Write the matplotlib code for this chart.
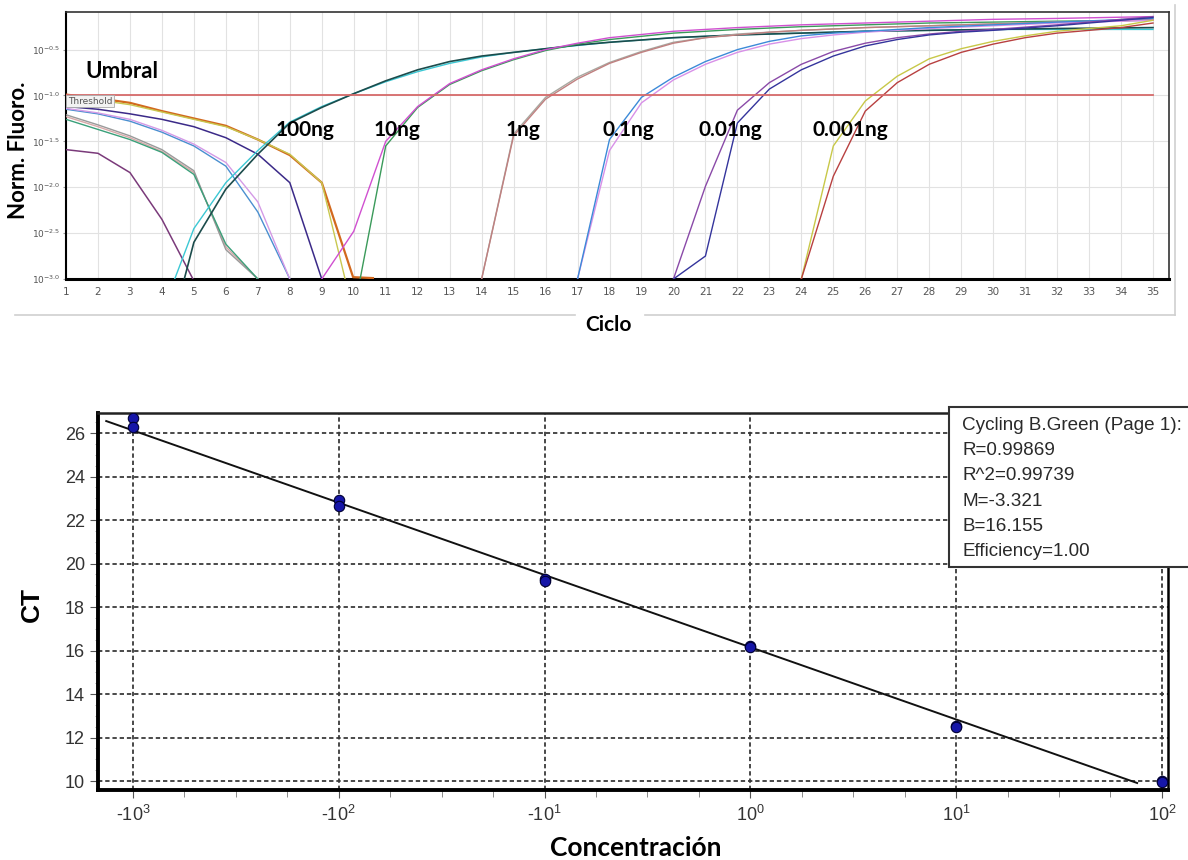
import numpy as np
import matplotlib.pyplot as plt
from matplotlib.patches import Rectangle
from matplotlib.lines import Line2D
from matplotlib.ticker import MultipleLocator

# ---- top chart: amplification curves (values are log10 of Norm. Fluoro.) ----
threshold_log = -0.99

# early-cycle baselines dropping off the bottom
base_orange_x = [1, 2, 3, 4, 5, 6, 7, 8, 9, 9.98, 10.6]
base_orange_y = [-0.99, -1.03, -1.08, -1.17, -1.25, -1.33, -1.48, -1.65, -1.95, -2.98, -2.99]
base_yellow_x = [1, 2, 3, 4, 5, 6, 7, 8, 9, 9.73]
base_yellow_y = [-1.01, -1.05, -1.1, -1.18, -1.26, -1.34, -1.48, -1.64, -1.95, -3.0]
base_indigo_x = [1, 2, 3, 4, 5, 6, 7, 8, 9]
base_indigo_y = [-1.12, -1.15, -1.2, -1.26, -1.34, -1.46, -1.64, -1.95, -3.0]
base_blue_x = [1, 2, 3, 4, 5, 6, 7, 8]
base_blue_y = [-1.15, -1.2, -1.28, -1.4, -1.55, -1.77, -2.27, -3.0]
base_lav_x = [1, 2, 3, 4, 5, 6, 7, 8]
base_lav_y = [-1.14, -1.19, -1.26, -1.38, -1.53, -1.73, -2.16, -3.0]
base_pink_x = [1, 2, 3, 4, 5, 6, 7]
base_pink_y = [-1.23, -1.34, -1.46, -1.61, -1.84, -2.65, -3.0]
base_gray_x = [1, 2, 3, 4, 5, 6, 7]
base_gray_y = [-1.21, -1.32, -1.44, -1.59, -1.82, -2.68, -3.0]
base_green_x = [1, 2, 3, 4, 5, 6, 7]
base_green_y = [-1.26, -1.37, -1.48, -1.62, -1.86, -2.62, -3.0]
base_plum_x = [1, 2, 3, 4, 4.97]
base_plum_y = [-1.59, -1.63, -1.84, -2.35, -3.0]

# amplification curves, two replicates per dilution
ng100_a_x = [4.7, 5, 6, 7, 8, 9, 10, 11, 12, 13, 14, 15, 16, 17, 18, 20, 22, 24, 26, 28, 30, 32, 35]
ng100_a_y = [-3.0, -2.6, -2.02, -1.64, -1.3, -1.13, -0.98, -0.84, -0.72, -0.63, -0.57, -0.53,
             -0.49, -0.45, -0.42, -0.37, -0.34, -0.32, -0.3, -0.29, -0.28, -0.27, -0.26]
ng100_b_x = [4.4, 5, 6, 7, 8, 9, 10, 11, 12, 13, 14, 15, 16, 18, 20, 22, 24, 26, 28, 30, 35]
ng100_b_y = [-3.0, -2.45, -1.95, -1.6, -1.29, -1.12, -0.98, -0.85, -0.74, -0.65, -0.58, -0.53,
             -0.49, -0.42, -0.37, -0.34, -0.32, -0.3, -0.29, -0.28, -0.28]
ng10_a_x = [9, 10, 11, 12, 13, 14, 15, 16, 17, 18, 20, 22, 24, 26, 28, 30, 32, 35]
ng10_a_y = [-3.0, -2.48, -1.5, -1.12, -0.87, -0.72, -0.6, -0.5, -0.43, -0.37, -0.3, -0.26,
            -0.23, -0.21, -0.19, -0.17, -0.16, -0.14]
ng10_b_x = [10.2, 11, 12, 13, 14, 15, 16, 17, 18, 20, 22, 24, 26, 28, 30, 32, 35]
ng10_b_y = [-3.0, -1.55, -1.13, -0.88, -0.73, -0.61, -0.51, -0.44, -0.39, -0.32, -0.28, -0.25,
            -0.23, -0.21, -0.2, -0.19, -0.18]
ng1_a_x = [14, 15, 16, 17, 18, 19, 20, 21, 22, 23, 24, 26, 28, 30, 32, 35]
ng1_a_y = [-3.0, -1.44, -1.04, -0.82, -0.65, -0.53, -0.43, -0.37, -0.34, -0.31, -0.29, -0.26,
           -0.24, -0.22, -0.2, -0.17]
ng1_b_x = [14, 15, 16, 17, 18, 19, 20, 21, 22, 23, 24, 26, 28, 30, 32, 35]
ng1_b_y = [-3.0, -1.42, -1.02, -0.8, -0.64, -0.52, -0.42, -0.37, -0.33, -0.31, -0.29, -0.26,
           -0.24, -0.22, -0.2, -0.18]
ng01_a_x = [17, 18, 19, 20, 21, 22, 23, 24, 25, 26, 28, 30, 32, 35]
ng01_a_y = [-3.0, -1.48, -1.02, -0.8, -0.63, -0.5, -0.41, -0.35, -0.32, -0.3, -0.26, -0.23, -0.2, -0.16]
ng01_b_x = [17, 18, 19, 20, 21, 22, 23, 24, 25, 26, 28, 30, 32, 35]
ng01_b_y = [-3.0, -1.6, -1.08, -0.83, -0.66, -0.53, -0.44, -0.38, -0.34, -0.31, -0.27, -0.24, -0.21, -0.18]
ng001_a_x = [20, 21, 22, 23, 24, 25, 26, 27, 28, 29, 30, 32, 35]
ng001_a_y = [-3.0, -1.99, -1.16, -0.86, -0.66, -0.52, -0.43, -0.37, -0.33, -0.3, -0.28, -0.23, -0.14]
ng001_b_x = [20, 21, 22, 23, 24, 25, 26, 27, 28, 29, 30, 32, 35]
ng001_b_y = [-3.0, -2.75, -1.3, -0.93, -0.72, -0.57, -0.46, -0.39, -0.34, -0.31, -0.29, -0.24, -0.15]
ng0001_a_x = [24, 25, 26, 27, 28, 29, 30, 31, 32, 33, 34, 35]
ng0001_a_y = [-3.0, -1.55, -1.06, -0.79, -0.6, -0.49, -0.41, -0.35, -0.3, -0.27, -0.24, -0.18]
ng0001_b_x = [24, 25, 26, 27, 28, 29, 30, 31, 32, 33, 34, 35]
ng0001_b_y = [-3.0, -1.88, -1.17, -0.86, -0.66, -0.53, -0.44, -0.37, -0.32, -0.29, -0.26, -0.21]

dilution_labels = ['100ng', '10ng', '1ng', '0.1ng', '0.01ng', '0.001ng']
dilution_label_x = [7.55, 10.62, 14.74, 17.78, 20.78, 24.35]

# ---- bottom chart: standard curve ----
conc_log = [-3, -3, -2, -2, -1, -1, 0, 0, 1, 1, 2, 2]
ct_values = [26.68, 26.29, 22.92, 22.64, 19.29, 19.22, 16.22, 16.16, 12.53, 12.49, 10.02, 9.98]
slope_m = -3.321
intercept_b = 16.155
fit_range = [-3.13, 1.88]
conc_tick_exp = [3, 2, 1, 0, 1, 2]
conc_tick_sign = ['-', '-', '-', '', '', '']
stats_lines = ['Cycling B.Green (Page 1):', 'R=0.99869', 'R^2=0.99739',
               'M=-3.321', 'B=16.155', 'Efficiency=1.00']

W, H = 1188, 860
fig = plt.figure(figsize=(W / 100, H / 100), dpi=100)
fig.patch.set_facecolor('white')

# ================= top chart =================
ax1 = fig.add_axes([66 / W, 1 - 279 / H, (1169 - 66) / W, 267 / H])
ax1.set_yscale('log')

curves = [
    (base_orange_x, base_orange_y, '#d2691e', 1.6),
    (base_yellow_x, base_yellow_y, '#c8c850', 1.0),
    (base_indigo_x, base_indigo_y, '#3b2a88', 1.1),
    (base_blue_x, base_blue_y, '#4a8fd0', 1.0),
    (base_lav_x, base_lav_y, '#d49ae6', 1.0),
    (base_pink_x, base_pink_y, '#d8a8a8', 1.0),
    (base_gray_x, base_gray_y, '#9a9a9a', 1.0),
    (base_green_x, base_green_y, '#3aa07a', 1.0),
    (base_plum_x, base_plum_y, '#7a3a7a', 1.1),
    (ng100_b_x, ng100_b_y, '#3cc8d4', 1.0),
    (ng100_a_x, ng100_a_y, '#1c4c4c', 1.2),
    (ng10_b_x, ng10_b_y, '#3a9a5a', 1.0),
    (ng10_a_x, ng10_a_y, '#d050d0', 1.0),
    (ng1_b_x, ng1_b_y, '#a8a8a0', 1.0),
    (ng1_a_x, ng1_a_y, '#c08080', 1.0),
    (ng01_b_x, ng01_b_y, '#d890e8', 1.0),
    (ng01_a_x, ng01_a_y, '#3c8ad8', 1.0),
    (ng001_a_x, ng001_a_y, '#8a4aa8', 1.0),
    (ng001_b_x, ng001_b_y, '#34349c', 1.0),
    (ng0001_a_x, ng0001_a_y, '#c8c848', 1.0),
    (ng0001_b_x, ng0001_b_y, '#b84040', 1.0),
]
for xs, ys, col, lw in curves:
    ax1.plot(xs, 10 ** np.array(ys), color=col, lw=lw, zorder=3)

ax1.plot([1, 35], [10 ** threshold_log] * 2, color='#d66a6a', lw=1.3, zorder=4)

ax1.set_xlim(1, 35.5)
ax1.set_ylim(10 ** -3.0, 10 ** -0.09)
ax1.set_xticks(range(1, 36))
ax1.tick_params(axis='x', labelsize=7.5, labelcolor='#555', length=0, pad=6)
ytick_exp = [-3.0, -2.5, -2.0, -1.5, -1.0, -0.5]
ax1.set_yticks([10 ** e for e in ytick_exp])
ax1.set_yticklabels([r'$\mathregular{10^{%.1f}}$' % e for e in ytick_exp])
ax1.minorticks_off()
ax1.tick_params(axis='y', labelsize=6.5, labelcolor='#555', length=2, color='#999', pad=2)
ax1.grid(True, color='#e2e2e2', lw=0.8, zorder=0)
ax1.set_axisbelow(True)
for side in ['top', 'right']:
    ax1.spines[side].set_linewidth(1.2)
    ax1.spines[side].set_color('#333')
ax1.spines['left'].set_linewidth(1.5)
ax1.spines['bottom'].set_linewidth(2.2)

ax1.text(1.06, 10 ** -1.06, 'Threshold', fontsize=6.5, color='#555', va='center',
         bbox=dict(facecolor='#f2f2f2', edgecolor='#aaa', lw=0.6, pad=1.2), zorder=6)
ax1.text(1.6, 10 ** -0.81, 'Umbral', fontsize=16, fontweight='bold', family='Lato',
         va='baseline', zorder=7)
for lab, lx in zip(dilution_labels, dilution_label_x):
    ax1.text(lx, 10 ** -1.445, lab, fontsize=15, fontweight='bold', family='Lato',
             va='baseline', zorder=7)

fig.text(19 / W, 1 - 150 / H, 'Norm. Fluoro.', rotation=90, fontsize=16, fontweight='bold',
         family='Lato', ha='center', va='center')
fig.text(608 / W, 1 - 325 / H, 'Ciclo', fontsize=15, fontweight='bold', family='Lato',
         ha='center', va='center')

# faint frame of the screenshot around the top chart
fig.add_artist(Line2D([15 / W, 575 / W], [1 - 315 / H] * 2, color='#cfcfcf', lw=1.2))
fig.add_artist(Line2D([645 / W, 1175 / W], [1 - 315 / H] * 2, color='#cfcfcf', lw=1.2))
fig.add_artist(Line2D([1175 / W, 1175 / W], [1 - 315 / H, 1 - 5 / H], color='#cfcfcf', lw=1.2))

# ================= bottom chart =================
ax2 = fig.add_axes([98 / W, 1 - 790 / H, 1070 / W, 377 / H])
fx = np.array(fit_range)
ax2.plot(fx, slope_m * fx + intercept_b, color='#111', lw=1.4, zorder=3)
ax2.plot(conc_log, ct_values, 'o', ms=7.5, color='#1616a8', mec='#000033', mew=0.8, zorder=5)

ax2.set_xlim(-3.17, 2.03)
ax2.set_ylim(9.59, 26.92)
ax2.set_yticks(range(10, 27, 2))
ax2.set_xticks(range(-3, 3))
ax2.xaxis.set_minor_locator(MultipleLocator(0.25))
ax2.yaxis.set_minor_locator(MultipleLocator(0.5))
ax2.set_xticklabels([s + r'$\mathregular{10^{%d}}$' % e for s, e in zip(conc_tick_sign, conc_tick_exp)],
                    family='Liberation Sans')
ax2.tick_params(axis='both', which='major', direction='out', length=6, color='#555',
                labelsize=13, labelcolor='#333')
ax2.tick_params(axis='x', which='minor', direction='out', length=5, color='#777')
ax2.tick_params(axis='y', which='minor', direction='out', length=2, color='#999')
ax2.tick_params(axis='x', pad=5)
for lab in ax2.get_yticklabels():
    lab.set_family('Liberation Sans')
ax2.grid(True, which='major', ls=(0, (2.4, 1.6)), color='#3a3a3a', lw=1.3, zorder=1)
ax2.set_axisbelow(True)
ax2.spines['left'].set_linewidth(2.8)
ax2.spines['bottom'].set_linewidth(2.8)
ax2.spines['top'].set_linewidth(1.8)
ax2.spines['right'].set_linewidth(1.8)
ax2.spines['top'].set_color('#222')

fig.text(32 / W, 1 - 605 / H, 'CT', rotation=90, fontsize=19, fontweight='bold',
         family='Liberation Sans', ha='center', va='center')
fig.text(636 / W, 1 - 848 / H, 'Concentración', fontsize=19, fontweight='bold',
         family='Lato', ha='center', va='center')

# statistics box at the upper right
box = Rectangle((949 / W, 1 - 567 / H), 260 / W, 160 / H, transform=fig.transFigure,
                facecolor='white', edgecolor='#333', lw=1.5, zorder=10)
fig.add_artist(box)
for i, line in enumerate(stats_lines):
    fig.text(962 / W, 1 - (425 + i * 25.4) / H, line, fontsize=13.6, color='#2a2a2a',
             family='Liberation Sans', va='center', zorder=11)

fig.savefig('out.png', dpi=100)
